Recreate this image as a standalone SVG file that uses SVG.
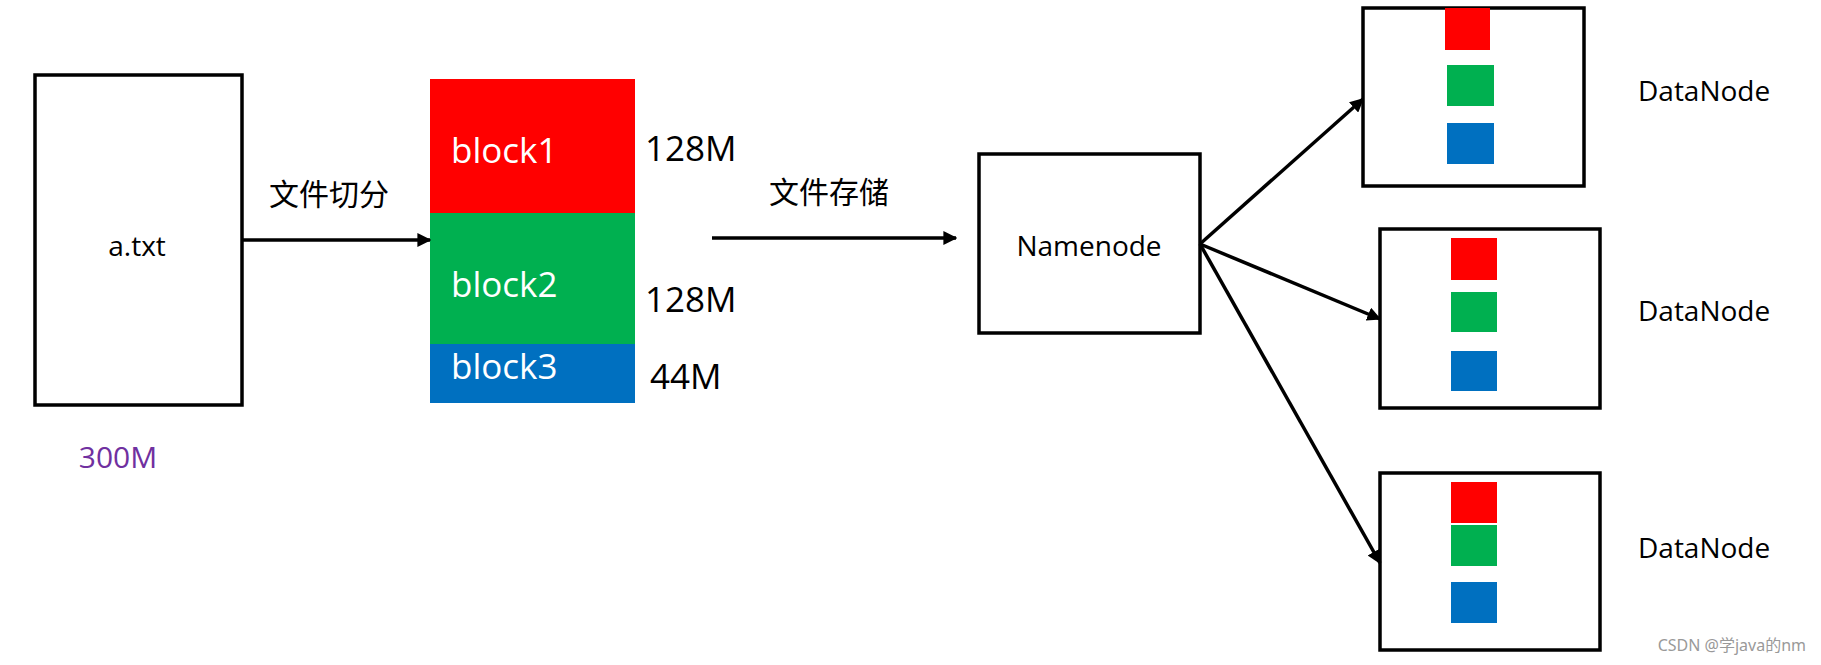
<svg xmlns="http://www.w3.org/2000/svg" width="1821" height="665" viewBox="0 0 1821 665">
<style>
.box{fill:#fff;stroke:#000;stroke-width:3.5}
.t{font-family:"Open Sans","Noto Sans","Noto Sans CJK SC",sans-serif;fill:#000}
.w{font-family:"Open Sans","Noto Sans",sans-serif;fill:#fff;font-size:35px}
.c{stroke:#000;stroke-width:3.5;fill:none;marker-end:url(#ah)}
</style>
<defs><marker id="ah" viewBox="0 0 10 10" refX="9" refY="5" markerWidth="4" markerHeight="4" orient="auto" markerUnits="strokeWidth"><path d="M0,0L10,5L0,10z" fill="#000"/></marker></defs>
<rect width="1821" height="665" fill="#fff"/>
<g id="file"><rect class="box" x="35" y="75" width="207" height="330"/><text class="t" x="137" y="256" font-size="28" text-anchor="middle">a.txt</text><text x="118" y="468" font-size="30" text-anchor="middle" font-family="Open Sans,sans-serif" fill="#7030A0">300M</text></g>
<g id="blocks">
<rect x="430" y="79" width="205" height="134" fill="#FF0000"/><rect x="430" y="213" width="205" height="131" fill="#00B050"/><rect x="430" y="344" width="205" height="59" fill="#0070C0"/>
<text class="w" x="451" y="163">block1</text><text class="w" x="451" y="297">block2</text><text class="w" x="451" y="379">block3</text>
<text class="t" x="645" y="161" font-size="35">128M</text><text class="t" x="645" y="312" font-size="35">128M</text><text class="t" x="650" y="389" font-size="35">44M</text></g>
<g id="namenode"><rect class="box" x="979" y="154" width="221" height="179"/><text class="t" x="1089" y="256" font-size="28" text-anchor="middle">Namenode</text></g>
<g id="dn1"><rect class="box" x="1363" y="8" width="221" height="178"/><rect x="1445" y="8" width="45" height="42" fill="#FF0000"/><rect x="1447" y="65" width="47" height="41" fill="#00B050"/><rect x="1447" y="123" width="47" height="41" fill="#0070C0"/><text class="t" x="1638" y="101" font-size="28">DataNode</text></g>
<g id="dn2"><rect class="box" x="1380" y="229" width="220" height="179"/><rect x="1451" y="238" width="46" height="42" fill="#FF0000"/><rect x="1451" y="292" width="46" height="40" fill="#00B050"/><rect x="1451" y="351" width="46" height="40" fill="#0070C0"/><text class="t" x="1638" y="321" font-size="28">DataNode</text></g>
<g id="dn3"><rect class="box" x="1380" y="473" width="220" height="177"/><rect x="1451" y="482" width="46" height="41" fill="#FF0000"/><rect x="1451" y="525" width="46" height="41" fill="#00B050"/><rect x="1451" y="582" width="46" height="41" fill="#0070C0"/><text class="t" x="1638" y="558" font-size="28">DataNode</text></g>
<g id="connectors">
<line class="c" x1="242" y1="240" x2="430" y2="240"/>
<line class="c" x1="712" y1="238" x2="956" y2="238"/>
<line class="c" x1="1200" y1="244" x2="1363" y2="99"/>
<line class="c" x1="1200" y1="244" x2="1380" y2="319"/>
<line class="c" x1="1200" y1="244" x2="1380" y2="563"/>
<text class="t" x="269" y="205" font-size="30">文件切分</text>
<text class="t" x="769" y="203" font-size="30">文件存储</text>
</g>
<text x="1806" y="651" font-size="16" text-anchor="end" fill="#999" font-family="Noto Sans,Noto Sans CJK SC,sans-serif">CSDN @学java的nm</text>
</svg>
